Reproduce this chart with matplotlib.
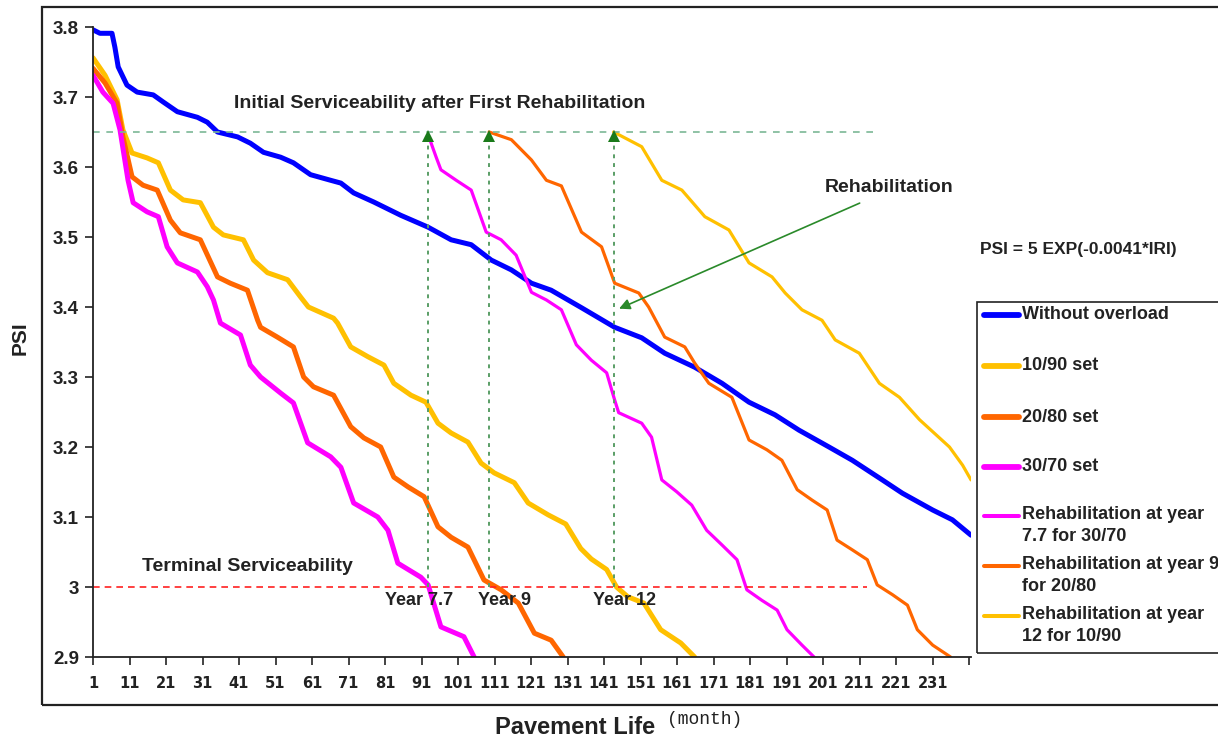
import matplotlib.pyplot as plt
from matplotlib.patches import Rectangle
from matplotlib.lines import Line2D

plt.rcParams['font.family'] = ['Liberation Sans', 'DejaVu Sans']

# --------------------------------(start)

# Without overload
base_month = [1, 2.9, 6.2, 7.0, 7.9, 10.3, 13.1, 17.5, 20.2, 24.1, 29.6, 32.3, 35.1, 40.6,
              44.1, 47.7, 52.4, 55.9, 60.6, 66.1, 68.9, 72.4, 77.9, 85.3, 92.8, 99.1, 104.6,
              110.1, 115.6, 121.1, 126.5, 134.8, 143.9, 151.3, 157.6, 165.8, 173.3, 180.7,
              187.8, 194.4, 202.6, 209.0, 217.2, 222.7, 231.0, 236.4, 241.5]
base_psi = [3.796, 3.791, 3.791, 3.771, 3.743, 3.717, 3.707, 3.703, 3.693, 3.679, 3.671, 3.664,
            3.650, 3.643, 3.634, 3.621, 3.614, 3.606, 3.589, 3.581, 3.577, 3.563, 3.550, 3.531,
            3.514, 3.496, 3.489, 3.467, 3.453, 3.434, 3.424, 3.399, 3.371, 3.356, 3.334, 3.314,
            3.291, 3.264, 3.246, 3.224, 3.200, 3.181, 3.153, 3.134, 3.110, 3.096, 3.074]

# 10/90 set
s1090_month = [1, 4.3, 7.6, 9.2, 11.7, 15.8, 18.9, 22.2, 25.7, 30.4, 34.0, 36.7, 42.2, 45.0,
               48.8, 54.3, 57.9, 60.0, 66.9, 68.0, 71.6, 76.3, 80.7, 83.4, 88.1, 92.2, 95.5,
               99.1, 103.7, 107.3, 110.9, 116.4, 120.2, 125.7, 130.5, 134.6, 137.5, 141.7,
               144.4, 147.5, 151.9, 156.5, 162.0, 165.8]
s1090_psi = [3.756, 3.731, 3.696, 3.653, 3.620, 3.613, 3.606, 3.567, 3.553, 3.549, 3.514, 3.503,
             3.496, 3.467, 3.449, 3.439, 3.414, 3.400, 3.384, 3.377, 3.343, 3.329, 3.317, 3.291,
             3.274, 3.264, 3.234, 3.220, 3.207, 3.177, 3.163, 3.149, 3.120, 3.103, 3.090, 3.055,
             3.040, 3.025, 3.000, 2.986, 2.977, 2.939, 2.920, 2.900]

# 20/80 set
s2080_month = [1, 4.3, 7.6, 9.2, 11.7, 14.7, 18.6, 22.2, 24.9, 30.4, 35.1, 38.6, 43.3, 46.1,
               46.9, 51.5, 55.9, 58.7, 61.4, 66.9, 71.6, 75.2, 79.8, 83.4, 87.3, 91.7, 95.5,
               99.1, 103.7, 108.1, 112.8, 117.5, 121.9, 126.5, 129.8]
s2080_psi = [3.741, 3.720, 3.691, 3.643, 3.586, 3.574, 3.567, 3.524, 3.506, 3.496, 3.443, 3.434,
             3.424, 3.381, 3.371, 3.357, 3.343, 3.300, 3.286, 3.274, 3.229, 3.213, 3.200, 3.157,
             3.143, 3.129, 3.086, 3.071, 3.057, 3.010, 2.996, 2.977, 2.934, 2.924, 2.900]

# 30/70 set
s3070_month = [1, 3.7, 6.5, 8.4, 10.6, 12.0, 15.8, 18.9, 21.3, 24.1, 29.6, 32.3, 34.0, 35.9,
               41.4, 44.1, 46.9, 52.4, 55.9, 59.8, 66.1, 68.9, 72.4, 79.0, 81.8, 84.5, 90.8,
               92.8, 96.3, 102.6, 105.4]
s3070_psi = [3.731, 3.707, 3.691, 3.653, 3.581, 3.549, 3.536, 3.529, 3.486, 3.463, 3.450, 3.429,
             3.410, 3.377, 3.360, 3.317, 3.300, 3.277, 3.263, 3.206, 3.186, 3.171, 3.120, 3.100,
             3.081, 3.034, 3.014, 3.003, 2.943, 2.929, 2.900]

# Rehabilitation at year 7.7 for 30/70
r77_month = [92.8, 95.0, 96.3, 100.5, 104.6, 108.7, 112.8, 116.9, 121.1, 125.2, 129.3, 133.4,
             137.5, 141.7, 143.9, 145.0, 151.3, 154.0, 156.8, 160.9, 165.0, 169.1, 173.3,
             177.4, 180.1, 184.2, 188.4, 191.1, 195.2, 198.5]
r77_psi = [3.646, 3.614, 3.596, 3.581, 3.567, 3.507, 3.496, 3.474, 3.421, 3.410, 3.396, 3.346,
           3.324, 3.306, 3.267, 3.249, 3.234, 3.214, 3.153, 3.136, 3.117, 3.081, 3.060, 3.039,
           2.996, 2.981, 2.967, 2.939, 2.917, 2.900]

# Rehabilitation at year 9 for 20/80
r9_month = [109.5, 115.6, 121.1, 125.2, 129.3, 134.8, 140.3, 143.9, 150.5, 153.2, 157.6, 163.1,
            165.8, 169.7, 176.0, 180.7, 185.6, 189.7, 193.9, 198.0, 202.1, 204.8, 209.0, 213.1,
            215.8, 220.0, 224.1, 226.8, 231.0, 235.9]
r9_psi = [3.650, 3.639, 3.610, 3.581, 3.573, 3.507, 3.486, 3.434, 3.420, 3.400, 3.357, 3.343,
          3.320, 3.291, 3.271, 3.210, 3.196, 3.181, 3.139, 3.124, 3.110, 3.067, 3.053, 3.039,
          3.003, 2.989, 2.974, 2.939, 2.917, 2.900]

# Rehabilitation at year 12 for 10/90
r12_month = [143.6, 151.3, 156.8, 162.3, 168.6, 175.2, 180.7, 187.0, 190.6, 195.2, 200.7, 204.3,
             210.9, 216.4, 221.9, 227.4, 235.6, 239.2, 241.5]
r12_psi = [3.650, 3.629, 3.581, 3.567, 3.529, 3.510, 3.463, 3.443, 3.420, 3.396, 3.381, 3.353,
           3.334, 3.291, 3.271, 3.239, 3.200, 3.174, 3.153]

legend_labels = ['Without overload', '10/90 set', '20/80 set', '30/70 set',
                 'Rehabilitation at year\n7.7 for 30/70',
                 'Rehabilitation at year 9\nfor 20/80',
                 'Rehabilitation at year\n12 for 10/90']
rehab_months = [92.8, 109.5, 143.6]
year_labels = ['Year 7.7', 'Year 9', 'Year 12']
year_label_x = [90.3, 113.6, 146.6]

yticks = [2.9, 3.0, 3.1, 3.2, 3.3, 3.4, 3.5, 3.6, 3.7, 3.8]
ytick_labels = ['2.9', '3', '3.1', '3.2', '3.3', '3.4', '3.5', '3.6', '3.7', '3.8']
xticks = list(range(1, 242, 10))
xtick_labels = [str(t) for t in xticks[:-1]] + ['']

# --------------------------------(end)

colours = {"base": '#0000FF', "s1090": '#FFC000', "s2080": '#FF6600', "s3070": '#FF00FF'}
thick = 3.6
thin = 2.3

W, H = 1218, 738
def fx(px):
    return px / W
def fy(py):
    return 1 - py / H

fig = plt.figure(figsize=(W / 100, H / 100), dpi=100)
fig.patches.append(Rectangle((fx(42), fy(705)), 1.2, fy(7) - fy(705), transform=fig.transFigure,
                             fill=False, edgecolor='#222222', lw=1.6))

ax = fig.add_axes([fx(93), fy(657), fx(971) - fx(93), fy(27) - fy(657)])

kw = dict(solid_capstyle='round', solid_joinstyle='round')
series = [(base_month, base_psi, colours["base"], thick),
          (s1090_month, s1090_psi, colours["s1090"], thick),
          (s2080_month, s2080_psi, colours["s2080"], thick),
          (s3070_month, s3070_psi, colours["s3070"], thick),
          (r77_month, r77_psi, colours["s3070"], thin),
          (r9_month, r9_psi, colours["s2080"], thin),
          (r12_month, r12_psi, colours["s1090"], thin)]
for m, p, c, lw in series:
    ax.plot(m, p, color=c, lw=lw, **kw)

# reference lines
ax.plot([1, 215], [3.65, 3.65], ls=(0, (4, 4)), color='#7cb896', lw=1.2)
ax.plot([1, 213], [3.0, 3.0], ls=(0, (4, 3)), color='#ff2020', lw=1.2)
for m in rehab_months:
    ax.plot([m, m], [3.0, 3.64], ls=(0, (2, 2.5)), color='#5a9e66', lw=1.4)
    ax.plot(m, 3.645, marker='^', color='#1a7a1a', ms=8, mew=0)

ax.annotate('', xy=(144.4, 3.396), xytext=(211.7, 3.55),
            arrowprops=dict(arrowstyle='-|>', color='#2a8a2a', lw=1.2, mutation_scale=16))

ax.text(39.5, 3.69, 'Initial Serviceability after First Rehabilitation', fontsize=14,
        fontweight='bold', va='center', ha='left', color='#222222')
ax.text(14.5, 3.029, 'Terminal Serviceability', fontsize=14, fontweight='bold',
        va='center', ha='left', color='#222222')
ax.text(201.5, 3.571, 'Rehabilitation', fontsize=14, fontweight='bold', va='center',
        ha='left', color='#222222')
for lab, xm in zip(year_labels, year_label_x):
    ax.text(xm, 2.981, lab, fontsize=13, fontweight='bold', va='center', ha='center',
            color='#222222')

ax.set_xlim(1, 241.5)
ax.set_ylim(2.9, 3.8)
ax.set_xticks(xticks)
ax.set_xticklabels(xtick_labels, family='Liberation Sans Narrow', fontsize=10.5,
                   fontweight='bold')
ax.set_yticks(yticks)
ax.set_yticklabels(ytick_labels, fontsize=13.5, fontweight='bold')
ax.tick_params(direction='out', length=6, width=1.2, colors='#222222', pad=4)
ax.tick_params(axis='x', pad=8)
for s in ['top', 'right']:
    ax.spines[s].set_visible(False)
for s in ['left', 'bottom']:
    ax.spines[s].set_linewidth(1.3)
    ax.spines[s].set_color('#222222')
ax.patch.set_alpha(0)

fig.text(fx(20), fy(338), 'PSI', rotation=90, fontsize=15, fontweight='bold',
         ha='center', va='center', color='#222222')
fig.text(fx(655), fy(727), 'Pavement Life', fontsize=17, fontweight='bold',
         ha='right', va='center', color='#222222')
fig.text(fx(667), fy(719), '(month)', fontsize=13, family='Liberation Mono',
         ha='left', va='center', color='#222222')
fig.text(fx(980), fy(250), 'PSI = 5 EXP(-0.0041*IRI)', fontsize=12.5, fontweight='bold',
         ha='left', va='center', color='#222222')

# ----------------(legend box)----------------
fig.patches.append(Rectangle((fx(977), fy(653)), 0.2, fy(302) - fy(653),
                             transform=fig.transFigure, fill=False, edgecolor='#222222', lw=1.2))
leg_y = [315, 366, 417, 467, 516, 566, 616]
for (m, p, c, lw), lab, yy in zip(series, legend_labels, leg_y):
    fig.add_artist(Line2D([fx(984), fx(1019)], [fy(yy), fy(yy)], color=c, lw=lw + 0.6,
                          solid_capstyle='round', transform=fig.transFigure))
    if '\n' in lab:
        fig.text(fx(1022), fy(yy - 10), lab, fontsize=13, fontweight='bold', ha='left',
                 va='top', linespacing=1.35, color='#222222')
    else:
        fig.text(fx(1022), fy(yy), lab, fontsize=13, fontweight='bold', ha='left',
                 va='center', color='#222222')

plt.savefig('out.png', dpi=100)
